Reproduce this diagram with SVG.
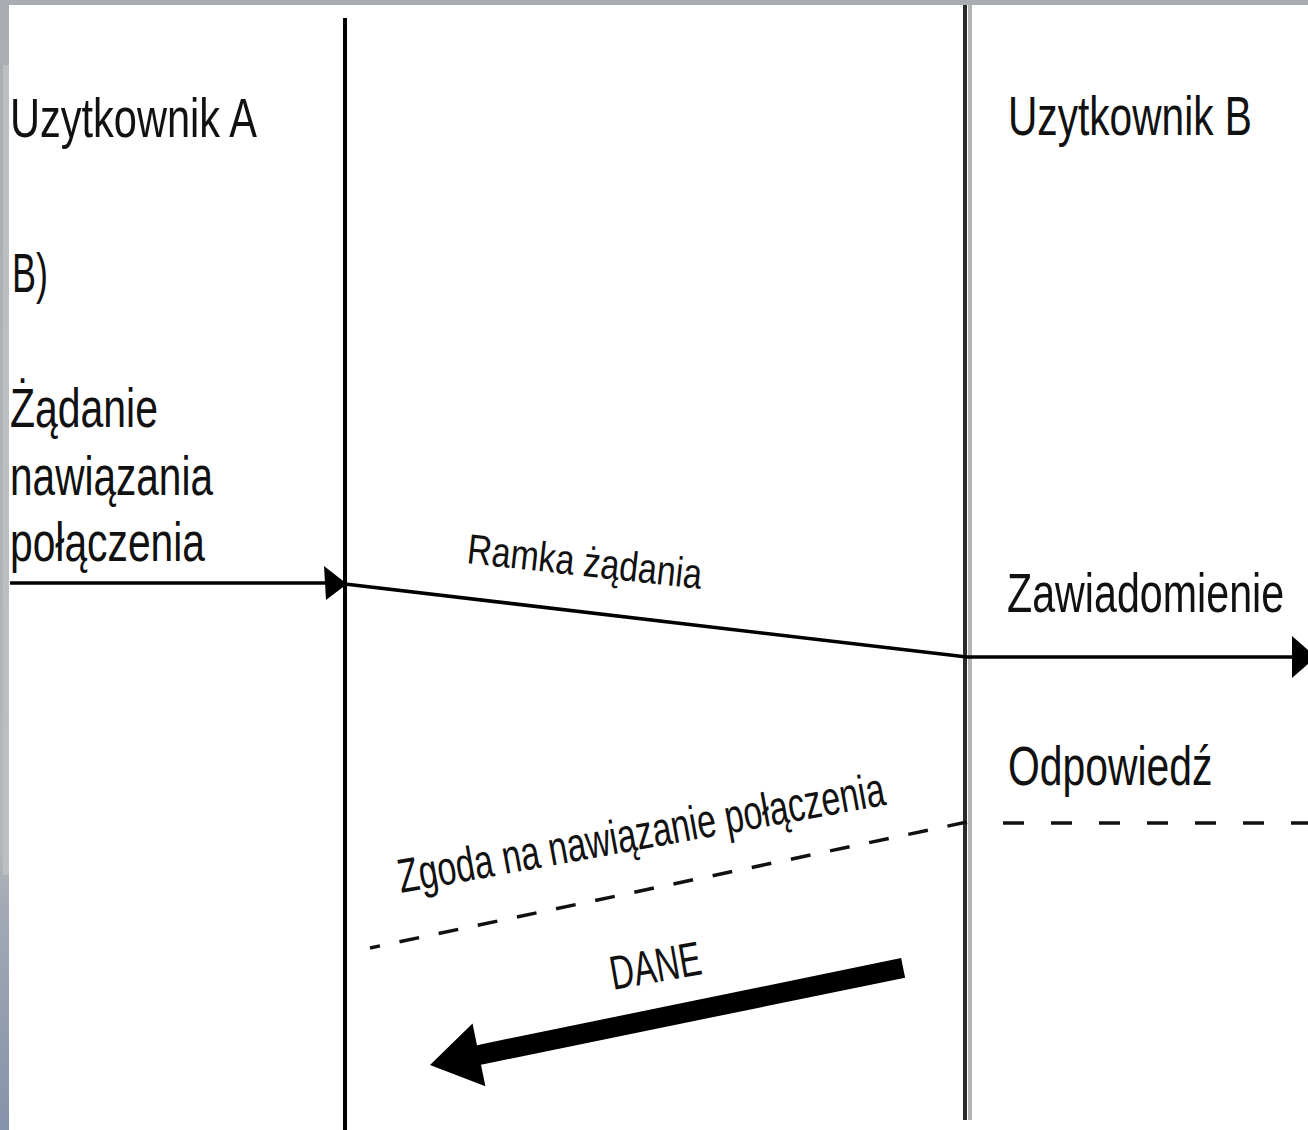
<svg xmlns="http://www.w3.org/2000/svg" width="1308" height="1130" viewBox="0 0 1308 1130">
<defs>
<linearGradient id="side" x1="0" y1="0" x2="0" y2="1">
<stop offset="0" stop-color="#a9adb2"/>
<stop offset="0.75" stop-color="#b4b7ba"/>
<stop offset="0.8" stop-color="#a3aab5"/>
<stop offset="1" stop-color="#8592ab"/>
</linearGradient>
<style>
text{font-family:"Liberation Sans",Arial,sans-serif;fill:#111;}
.big{font-size:56px;}
.mid{font-size:48px;}
.sm{font-size:42px;}
.life{stroke:#000;stroke-width:4;fill:none;}
.msg{stroke:#000;stroke-width:3.5;fill:none;}
.dash{stroke:#111;stroke-width:3.5;fill:none;stroke-dasharray:21 27;}
.head{fill:#000;}
</style>
</defs>
<rect x="0" y="0" width="1308" height="1130" fill="#fff"/>
<rect x="0" y="0" width="1308" height="5" fill="#a9adb1"/>
<rect x="0" y="0" width="9" height="1130" fill="url(#side)"/>
<rect x="3" y="65" width="6" height="810" fill="#bcbfc2"/>

<g id="lifeline-a">
<line class="life" x1="345" y1="18" x2="345" y2="1130"/>
<text class="big" x="10" y="137" textLength="247" lengthAdjust="spacingAndGlyphs">Uzytkownik A</text>
</g>
<g id="lifeline-b">
<line x1="970" y1="5" x2="970" y2="1120" stroke="#b4b4b4" stroke-width="4"/>
<line x1="965" y1="5" x2="965" y2="1120" stroke="#2a2a2a" stroke-width="4"/>
<text class="big" transform="translate(1008 135) scale(0.726 1)" x="0" y="0">Uzytkownik B</text>
</g>

<g id="labels">
<text class="big" x="12" y="292" textLength="36" lengthAdjust="spacingAndGlyphs">B)</text>
<text class="big" x="10" y="427" textLength="148" lengthAdjust="spacingAndGlyphs">Żądanie</text>
<text class="big" x="10" y="495" textLength="203" lengthAdjust="spacingAndGlyphs">nawiązania</text>
<text class="big" x="10" y="561" textLength="195" lengthAdjust="spacingAndGlyphs">połączenia</text>
<text class="big" transform="translate(1007 612) scale(0.736 1)" x="0" y="0">Zawiadomienie</text>
<text class="big" transform="translate(1008 785) scale(0.73 1)" x="0" y="0">Odpowiedź</text>
<text class="sm" transform="translate(466 563) rotate(6.3)" x="0" y="0" textLength="236" lengthAdjust="spacingAndGlyphs">Ramka żądania</text>
<text class="mid" transform="translate(401 893) rotate(-10.3)" x="0" y="0" textLength="494" lengthAdjust="spacingAndGlyphs">Zgoda na nawiązanie połączenia</text>
<text class="mid" transform="translate(613 990) rotate(-10)" x="0" y="0" textLength="92" lengthAdjust="spacingAndGlyphs">DANE</text>
</g>

<g id="connectors">
<line class="msg" x1="10" y1="583" x2="326" y2="583"/>
<polygon class="head" points="347,584 324,566 326,600"/>
<line class="msg" x1="345" y1="584" x2="967" y2="657"/>
<line class="msg" x1="967" y1="657" x2="1294" y2="657"/>
<polygon class="head" points="1316,657 1292,636 1292,678"/>
<line class="dash" x1="1003" y1="823" x2="1308" y2="823"/>
<line class="dash" x1="967" y1="822" x2="370" y2="948" style="stroke-dasharray:20 20"/>
<g transform="translate(430 1065) rotate(-11.6)">
<polygon class="head" points="0,0 50,-32 50,-10 483,-10 483,10 50,10 50,32"/>
</g>
</g>
</svg>
